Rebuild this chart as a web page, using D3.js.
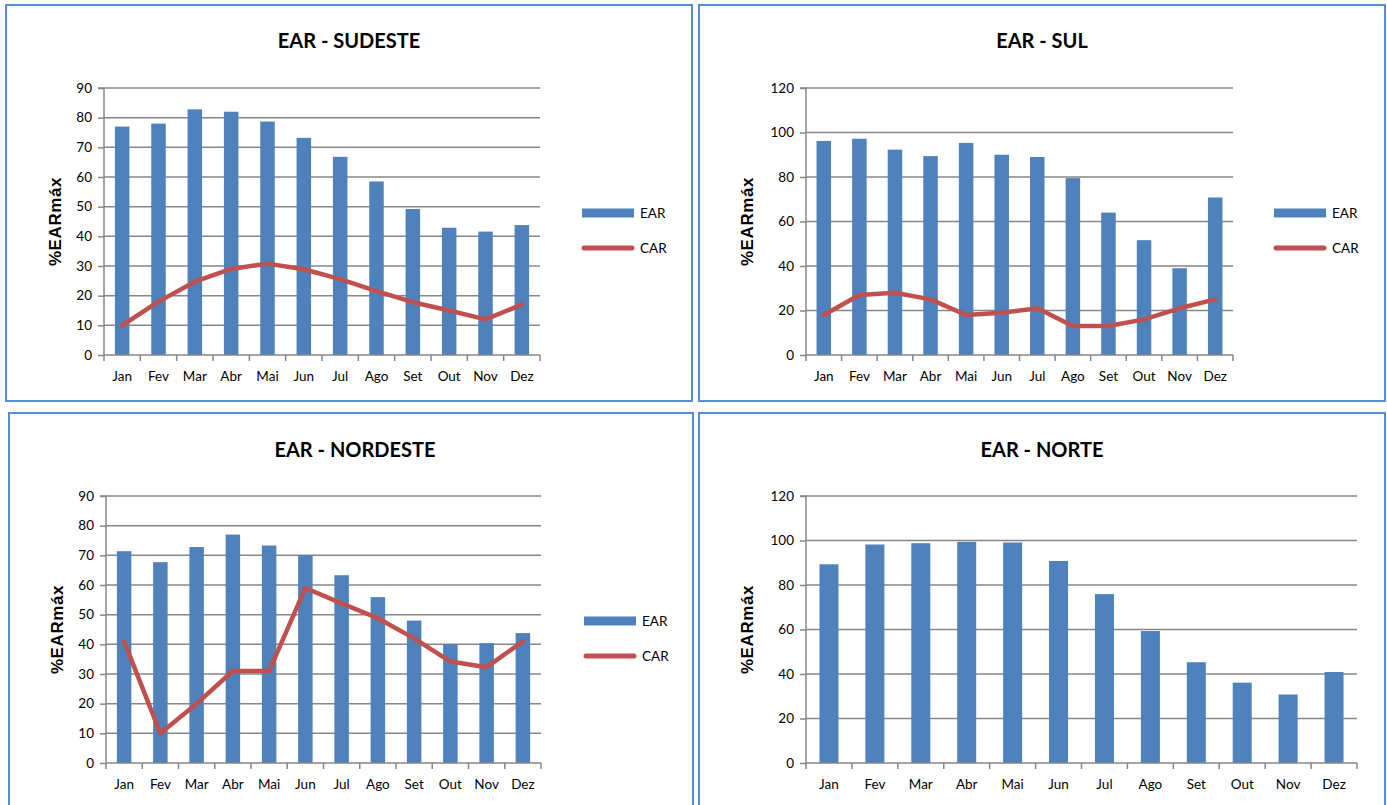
<!DOCTYPE html>
<html>
<head>
<meta charset="utf-8">
<script src="https://cdn.jsdelivr.net/npm/d3@7"></script>
<style>
  html, body { margin: 0; padding: 0; background: #ffffff; }
  svg { display: block; }
</style>
</head>
<body>
<svg id="chart" width="1387" height="805"></svg>
<script>
const months = ["Jan","Fev","Mar","Abr","Mai","Jun","Jul","Ago","Set","Out","Nov","Dez"];

const sudesteEAR = [77, 78, 82.8, 82, 78.7, 73.2, 66.8, 58.5, 49.2, 42.9, 41.6, 43.8];
const sudesteCAR = [10, 18, 24.7, 29, 30.8, 28.9, 25.6, 21.5, 17.8, 15, 12, 17];
const sudesteTicks = [0,10,20,30,40,50,60,70,80,90];

const sulEAR = [96.2, 97.2, 92.3, 89.4, 95.3, 90, 89, 79.5, 64, 51.6, 39, 70.8];
const sulCAR = [18, 27, 28, 25, 18, 19, 21, 13, 13, 16, 21, 25];
const sulTicks = [0,20,40,60,80,100,120];

const nordesteEAR = [71.4, 67.7, 72.8, 77, 73.3, 70, 63.3, 55.9, 48, 40, 40.4, 43.8];
const nordesteCAR = [41, 10, 20, 31, 31, 59, 53.8, 48.8, 42, 34.2, 32.3, 41];
const nordesteTicks = [0,10,20,30,40,50,60,70,80,90];

const norteEAR = [89.3, 98.2, 98.8, 99.4, 99.1, 90.8, 75.9, 59.3, 45.3, 36.1, 30.8, 40.9];
const norteTicks = [0,20,40,60,80,100,120];

const seriesNames = ["EAR", "CAR"];
const yTitle = "%EARmáx";

const BAR = "#4F81BD", LINE = "#C0504D", GRID = "#868686", BORDER = "#5B8BD0";
const svg = d3.select("#chart");

function drawPanel(p) {
  const g = svg.append("g");
  // panel border
  g.append("rect")
    .attr("x", p.box[0]).attr("y", p.box[1])
    .attr("width", p.box[2]).attr("height", p.box[3])
    .attr("fill", "#fff").attr("stroke", BORDER).attr("stroke-width", 2);

  // title
  g.append("text")
    .attr("x", p.titleX).attr("y", p.titleY)
    .attr("text-anchor", "middle")
    .attr("font-family", "Lato, 'Open Sans', sans-serif")
    .attr("font-weight", "bold").attr("font-size", 20)
    .attr("fill", "#000")
    .text(p.title);

  const xb = d3.scaleBand().domain(months).range([p.x0, p.x1]);
  const y = d3.scaleLinear().domain([0, d3.max(p.ticks)]).range([p.y0, p.y1]);

  // gridlines
  g.append("g").selectAll("line").data(p.ticks.filter(t => t !== 0)).join("line")
    .attr("x1", p.x0).attr("x2", p.x1)
    .attr("y1", d => y(d)).attr("y2", d => y(d))
    .attr("stroke", GRID).attr("stroke-width", 1.5);

  // bars
  g.append("g").selectAll("rect").data(p.ear).join("rect")
    .attr("x", (d, i) => xb(months[i]) + xb.bandwidth() / 2 - p.barW / 2)
    .attr("width", p.barW)
    .attr("y", d => y(d))
    .attr("height", d => y(0) - y(d))
    .attr("fill", BAR);

  // y axis
  const yAxis = d3.axisLeft(y).tickValues(p.ticks).tickSize(6).tickPadding(6).tickFormat(d3.format("d"));
  const ya = g.append("g").attr("transform", `translate(${p.x0},0)`).call(yAxis);
  ya.select(".domain").attr("stroke", GRID).attr("stroke-width", 1.5).attr("d", `M-6,${p.y1}H0V${p.y0}`);
  ya.selectAll(".tick line").attr("stroke", GRID).attr("stroke-width", 1.5);
  ya.selectAll(".tick text").attr("font-family", "Lato, sans-serif").attr("font-size", 13.5).attr("fill", "#000");

  // x axis
  const xAxis = d3.axisBottom(xb).tickSize(0).tickPadding(16);
  const xa = g.append("g").attr("transform", `translate(0,${p.y0})`).call(xAxis);
  xa.select(".domain").attr("stroke", GRID).attr("stroke-width", 1.5).attr("d", `M${p.x0},0H${p.x1}`);
  xa.selectAll(".tick text").attr("font-family", "Lato, sans-serif").attr("font-size", 13.5).attr("fill", "#000");
  // category boundary ticks
  const bounds = months.map(m => xb(m)).concat([p.x1]);
  xa.append("g").selectAll("line").data(bounds).join("line")
    .attr("x1", d => d).attr("x2", d => d).attr("y1", 0).attr("y2", 6)
    .attr("stroke", GRID).attr("stroke-width", 1.5);

  // line
  if (p.car) {
    const line = d3.line()
      .x((d, i) => xb(months[i]) + xb.bandwidth() / 2)
      .y(d => y(d));
    g.append("path").datum(p.car)
      .attr("d", line)
      .attr("fill", "none").attr("stroke", LINE).attr("stroke-width", 4.5)
      .attr("stroke-linejoin", "round").attr("stroke-linecap", "round");
  }

  // y title
  g.append("text")
    .attr("transform", `translate(${p.yTitleX},${(p.y0 + p.y1) / 2}) rotate(-90)`)
    .attr("text-anchor", "middle")
    .attr("font-family", "'Liberation Sans', Arial, sans-serif")
    .attr("font-weight", "bold").attr("font-size", 17)
    .attr("letter-spacing", 0.6)
    .attr("fill", "#000")
    .text(yTitle);

  // legend
  if (p.legend) {
    const [lx, ly] = p.legend;
    g.append("rect").attr("x", lx).attr("y", ly - 4.5).attr("width", 52).attr("height", 9).attr("fill", BAR);
    g.append("text").attr("x", lx + 58).attr("y", ly).attr("dy", "0.35em")
      .attr("font-family", "Lato, sans-serif").attr("font-size", 13.5).attr("fill", "#000").text(seriesNames[0]);
    g.append("line").attr("x1", lx + 2).attr("x2", lx + 50).attr("y1", ly + 35).attr("y2", ly + 35)
      .attr("stroke", LINE).attr("stroke-width", 5).attr("stroke-linecap", "round");
    g.append("text").attr("x", lx + 58).attr("y", ly + 35).attr("dy", "0.35em")
      .attr("font-family", "Lato, sans-serif").attr("font-size", 13.5).attr("fill", "#000").text(seriesNames[1]);
  }
}

drawPanel({ box: [6, 5, 686, 396], title: "EAR - SUDESTE", titleX: 349, titleY: 48,
  x0: 104, x1: 540, y0: 355, y1: 88, ticks: sudesteTicks, ear: sudesteEAR, car: sudesteCAR,
  barW: 14.5, yTitleX: 61, legend: [582, 213] });

drawPanel({ box: [699, 5, 686, 396], title: "EAR - SUL", titleX: 1042, titleY: 48,
  x0: 806, x1: 1233, y0: 355, y1: 88, ticks: sulTicks, ear: sulEAR, car: sulCAR,
  barW: 14.5, yTitleX: 753, legend: [1274, 213] });

drawPanel({ box: [9, 413, 684, 400], title: "EAR - NORDESTE", titleX: 355, titleY: 457,
  x0: 106, x1: 541, y0: 763, y1: 496, ticks: nordesteTicks, ear: nordesteEAR, car: nordesteCAR,
  barW: 14.5, yTitleX: 63, legend: [584, 621] });

drawPanel({ box: [699, 413, 686, 400], title: "EAR - NORTE", titleX: 1042, titleY: 457,
  x0: 806, x1: 1357, y0: 763, y1: 496, ticks: norteTicks, ear: norteEAR, car: null,
  barW: 19, yTitleX: 753, legend: null });
</script>
</body>
</html>
